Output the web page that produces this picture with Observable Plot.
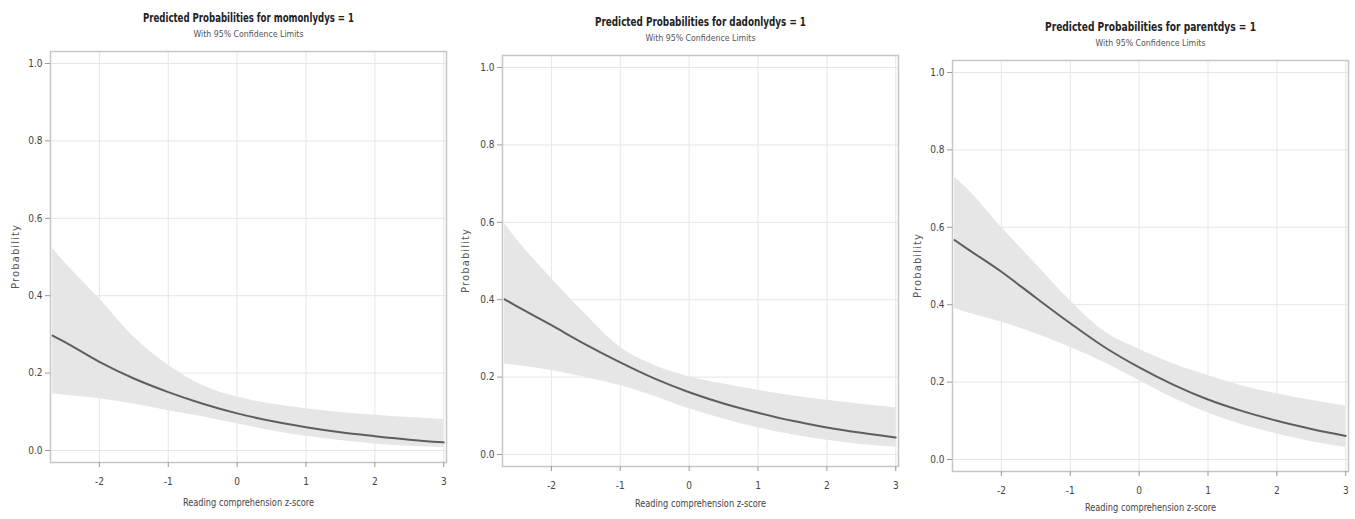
<!DOCTYPE html>
<html>
<head>
<meta charset="utf-8">
<script src="https://cdn.jsdelivr.net/npm/d3@7"></script>
<script src="https://cdn.jsdelivr.net/npm/@observablehq/plot@0.6"></script>
<style>
  html, body { margin: 0; padding: 0; background: #fff; }
  #wrap { position: relative; width: 1355px; height: 519px; overflow: hidden; background: #fff; }
  #wrap > div, #wrap > svg { position: absolute; top: 0; }
</style>
</head>
<body>
<div id="wrap"></div>
<script>
// ---- data ----
const zScores = [-2.68, -2.5, -2, -1.5, -1, -0.5, 0, 0.5, 1, 1.5, 2, 2.5, 3];

const titles = [
  "Predicted Probabilities for momonlydys = 1",
  "Predicted Probabilities for dadonlydys = 1",
  "Predicted Probabilities for parentdys = 1"
];
const subtitle = "With 95% Confidence Limits";
const xLabel = "Reading comprehension z-score";
const yLabel = "Probability";

const momPred  = [0.297, 0.280, 0.229, 0.186, 0.151, 0.121, 0.096, 0.076, 0.060, 0.047, 0.037, 0.028, 0.021];
const momLower = [0.146, 0.143, 0.134, 0.120, 0.103, 0.087, 0.069, 0.051, 0.037, 0.026, 0.017, 0.011, 0.008];
const momUpper = [0.521, 0.485, 0.392, 0.293, 0.220, 0.168, 0.138, 0.120, 0.108, 0.098, 0.091, 0.085, 0.080];

const dadPred  = [0.401, 0.383, 0.334, 0.284, 0.238, 0.196, 0.161, 0.132, 0.108, 0.087, 0.070, 0.056, 0.044];
const dadLower = [0.234, 0.230, 0.217, 0.199, 0.178, 0.150, 0.118, 0.092, 0.069, 0.051, 0.037, 0.026, 0.019];
const dadUpper = [0.596, 0.555, 0.455, 0.361, 0.277, 0.230, 0.201, 0.182, 0.166, 0.152, 0.140, 0.130, 0.121];

const parPred  = [0.567, 0.545, 0.485, 0.418, 0.352, 0.290, 0.238, 0.193, 0.155, 0.125, 0.100, 0.079, 0.061];
const parLower = [0.390, 0.380, 0.355, 0.325, 0.290, 0.250, 0.204, 0.158, 0.120, 0.090, 0.066, 0.046, 0.031];
const parUpper = [0.730, 0.700, 0.600, 0.505, 0.410, 0.330, 0.285, 0.247, 0.217, 0.190, 0.170, 0.153, 0.138];

const xTicks = [-2, -1, 0, 1, 2, 3];
const yTicks = [0, 0.2, 0.4, 0.6, 0.8, 1.0];

// ---- layout of the three panels ----
const panels = [
  {title: titles[0], pred: momPred, lower: momLower, upper: momUpper, left: 0,   top: 51, bottom: 462, xOff: 43, yOff: 39},
  {title: titles[1], pred: dadPred, lower: dadLower, upper: dadUpper, left: 452, top: 55, bottom: 466, xOff: 40, yOff: 41},
  {title: titles[2], pred: parPred, lower: parLower, upper: parUpper, left: 902, top: 60, bottom: 471, xOff: 39, yOff: 39}
];

const H = 519;
const narrow = "'Liberation Sans Narrow', 'DejaVu Sans Condensed', 'Arial Narrow', sans-serif";
const wrap = document.getElementById("wrap");

panels.forEach(p => {
  const data = zScores.map((z, i) => ({z, pred: p.pred[i], lower: p.lower[i], upper: p.upper[i]}));
  const chart = Plot.plot({
    width: 450,
    height: H,
    marginLeft: 50,
    marginRight: 4,
    marginTop: p.top,
    marginBottom: H - p.bottom,
    style: {fontFamily: narrow, fontSize: "10px", color: "#444", background: "transparent"},
    x: {domain: [-2.71, 3.04], ticks: xTicks},
    y: {domain: [-0.031, 1.031], ticks: yTicks},
    marks: [
      Plot.gridX(xTicks, {stroke: "#e6e6e6", strokeOpacity: 1}),
      Plot.gridY(yTicks, {stroke: "#e6e6e6", strokeOpacity: 1}),
      Plot.areaY(data, {x: "z", y1: "lower", y2: "upper", fill: "#e6e6e6", curve: "monotone-x"}),
      Plot.lineY(data, {x: "z", y: "pred", stroke: "#5e5e5e", strokeWidth: 2, curve: "monotone-x"}),
      Plot.frame({stroke: "#c6c6c6", strokeWidth: 1.5}),
      Plot.axisX(xTicks, {
        tickSize: 5, tickPadding: 10, stroke: "#999", fill: "#444", tickFormat: d => String(d),
        label: xLabel, labelAnchor: "center", labelArrow: "none", labelOffset: p.xOff
      }),
      Plot.axisY(yTicks, {
        tickSize: 5, tickPadding: 3, stroke: "#999", fill: "#444", tickFormat: d3.format(".1f"),
        label: yLabel, labelAnchor: "center", labelArrow: "none", labelOffset: p.yOff
      }),
      Plot.text([p.title], {frameAnchor: "top", lineAnchor: "middle", dy: -33, fontWeight: "bold", fontSize: 12, fill: "#222"}),
      Plot.text([subtitle], {frameAnchor: "top", lineAnchor: "middle", dy: -17, fontSize: 9, fill: "#555"})
    ]
  });
  // narrow the text to the reference's condensed typeface widths
  chart.querySelectorAll("text").forEach(t => {
    const s = t.textContent;
    if (s === p.title) {
      t.setAttribute("textLength", "211");
      t.setAttribute("lengthAdjust", "spacingAndGlyphs");
    } else if (s === xLabel) {
      t.setAttribute("textLength", "131");
      t.setAttribute("lengthAdjust", "spacingAndGlyphs");
      t.setAttribute("font-size", "11");
    } else if (s === yLabel) {
      t.setAttribute("font-family", "'DejaVu Sans', sans-serif");
      t.setAttribute("textLength", "64");
      t.setAttribute("lengthAdjust", "spacing");
      t.setAttribute("font-size", "10");
      t.setAttribute("fill", "#555");
    } else if (s === subtitle) {
      t.setAttribute("textLength", "110");
      t.setAttribute("lengthAdjust", "spacingAndGlyphs");
    }
  });
  chart.style.left = p.left + "px";
  wrap.appendChild(chart);
});
</script>
</body>
</html>
